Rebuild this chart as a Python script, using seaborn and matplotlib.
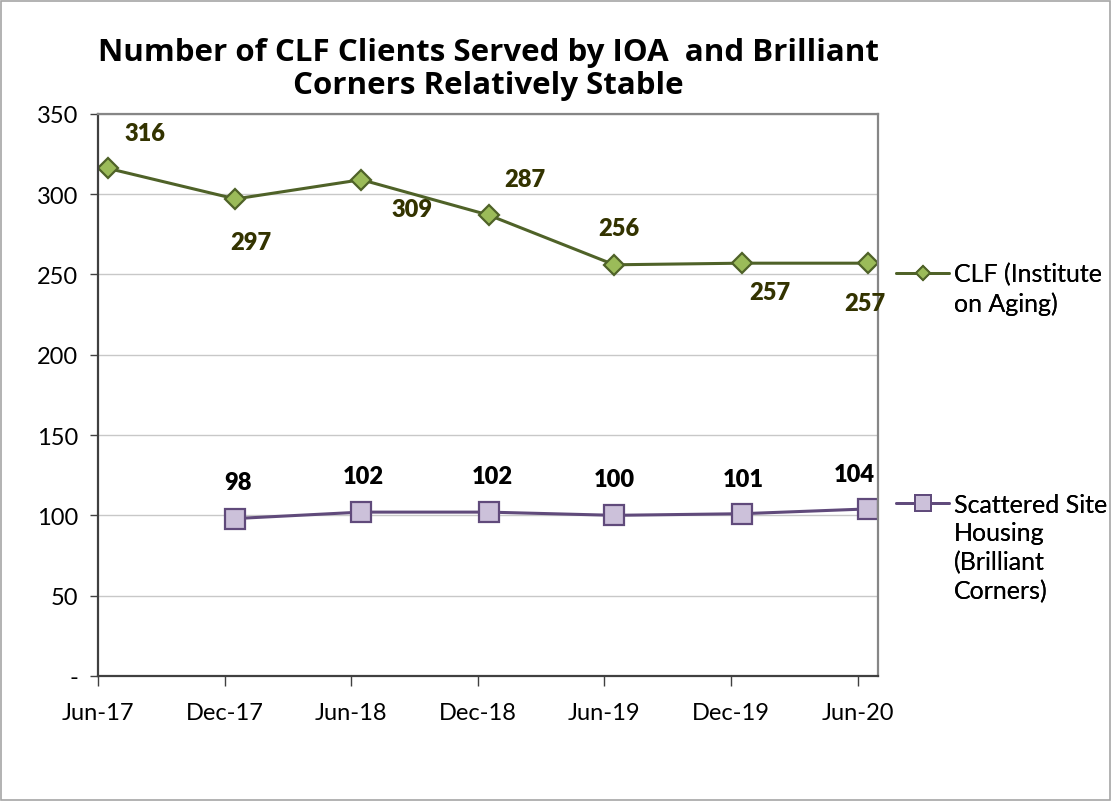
#! /usr/bin/env python
"""
Number of CLF clients served by IOA and Brilliant Corners, Jun-17 to Jun-20
"""

import numpy as np
import pandas as pd
import seaborn as sns
import matplotlib.pyplot as plt
import matplotlib.dates as mdates
from matplotlib.lines import Line2D
from matplotlib.patches import Rectangle

# data
months = ["2017-06", "2017-12", "2018-06", "2018-12", "2019-06", "2019-12", "2020-06"]
clf_clients = [316, 297, 309, 287, 256, 257, 257]
scattered_site = [np.nan, 98, 102, 102, 100, 101, 104]
y_ticks = [0, 50, 100, 150, 200, 250, 300, 350]
y_tick_labels = ["-", "50", "100", "150", "200", "250", "300", "350"]

CLF_LABEL = "CLF (Institute\non Aging)"
SSH_LABEL = "Scattered Site\nHousing\n(Brilliant\nCorners)"
TITLE = "Number of CLF Clients Served by IOA  and Brilliant\nCorners Relatively Stable"

# label offsets in pixels (style only)
clf_offsets = [(37, 35), (15, -43), (51, -29), (36, 36), (4, 37), (28, -29), (-3, -40)]
ssh_offsets = [None, (3, 37), (2, 36), (4, 36), (0, 36), (2, 35), (-14, 35)]

CLF_LINE = "#4f6228"
CLF_FACE = "#9bbb59"
SSH_LINE = "#604a7b"
SSH_FACE = "#ccc1da"
CLF_TEXT = "#333300"


def main() -> None:
    periods = pd.PeriodIndex(months, freq="M")
    # Excel date axis: points sit in the middle of their month
    mid = periods.start_time + (periods.end_time - periods.start_time) / 2
    df = pd.DataFrame({"date": mid, "clf": clf_clients, "ssh": scattered_site})

    sns.set_style("white")
    plt.rcParams["font.family"] = ["Lato", "DejaVu Sans"]
    plt.rcParams["text.color"] = "black"

    fig = plt.figure(figsize=(11.12, 8.03), dpi=100)
    ax = fig.add_axes([0.088, 0.157, 0.702, 0.700])

    sns.lineplot(
        data=df, x="date", y="clf", ax=ax, color=CLF_LINE, lw=2.2,
        marker="D", markersize=10, markerfacecolor=CLF_FACE,
        markeredgecolor=CLF_LINE, markeredgewidth=1.6,
    )
    sns.lineplot(
        data=df.dropna(), x="date", y="ssh", ax=ax, color=SSH_LINE, lw=2.2,
        marker="s", markersize=14, markerfacecolor=SSH_FACE,
        markeredgecolor=SSH_LINE, markeredgewidth=1.6,
    )

    for d, v, off in zip(df["date"], clf_clients, clf_offsets):
        ax.annotate(f"{v}", (d, v), xytext=off, textcoords="offset pixels",
                    ha="center", va="center", fontsize=17, fontweight="heavy",
                    color=CLF_TEXT)
    for d, v, off in zip(df["date"], scattered_site, ssh_offsets):
        if off is None or np.isnan(v):
            continue
        ax.annotate(f"{int(v)}", (d, v), xytext=off, textcoords="offset pixels",
                    ha="center", va="center", fontsize=17, fontweight="heavy",
                    color="black")

    # axes limits and ticks
    ax.set_xlim(periods[0].start_time, periods[-1].end_time)
    ax.set_xticks(periods.start_time)
    ax.xaxis.set_major_formatter(mdates.DateFormatter("%b-%y"))
    ax.set_ylim(0, 350)
    ax.set_yticks(y_ticks)
    ax.set_yticklabels(y_tick_labels)
    ax.set_xlabel("")
    ax.set_ylabel("")
    ax.tick_params(axis="both", labelsize=17, colors="black")
    ax.tick_params(axis="x", direction="out", length=7, width=1, pad=12,
                   color="#404040", bottom=True)
    ax.tick_params(axis="y", direction="out", length=6, width=1, pad=8,
                   color="#404040", left=True)
    ax.yaxis.grid(True, color="#c8c8c8", lw=1)
    ax.xaxis.grid(False)
    ax.set_axisbelow(True)

    for side in ["left", "bottom"]:
        ax.spines[side].set_color("#404040")
        ax.spines[side].set_linewidth(1.6)
    for side in ["top", "right"]:
        ax.spines[side].set_color("#868686")
        ax.spines[side].set_linewidth(1.6)

    ax.set_title(TITLE, fontsize=22.5, fontweight="bold", pad=15, linespacing=1.15,
                 color="black", family=["Open Sans", "DejaVu Sans"])

    # legend, one block per series, continuation lines with blank handles
    blank = Line2D([], [], linestyle="none")
    clf_handle = Line2D([], [], color=CLF_LINE, lw=2, marker="D", markersize=7,
                        markerfacecolor=CLF_FACE, markeredgecolor=CLF_LINE,
                        markeredgewidth=1.4)
    ssh_handle = Line2D([], [], color=SSH_LINE, lw=2, marker="s", markersize=11,
                        markerfacecolor=SSH_FACE, markeredgecolor=SSH_LINE,
                        markeredgewidth=1.4)
    for handle, label, ytop in [
        (clf_handle, CLF_LABEL, 0.672),
        (ssh_handle, SSH_LABEL, 0.385),
    ]:
        lines = label.split("\n")
        leg = fig.legend(
            [handle] + [blank] * (len(lines) - 1), lines,
            loc="upper left", bbox_to_anchor=(0.806, ytop), frameon=False,
            fontsize=18, handlelength=2.1, handletextpad=0.2,
            labelspacing=0.22, borderpad=0, borderaxespad=0,
        )
        fig.add_artist(leg)

    # thin border around the whole chart area
    fig.patches.append(Rectangle((0.001, 0.002), 0.997, 0.996, transform=fig.transFigure,
                                 fill=False, edgecolor="#a6a6a6", lw=1.2))

    fig.savefig("out.png", dpi=100)


if __name__ == "__main__":
    main()
